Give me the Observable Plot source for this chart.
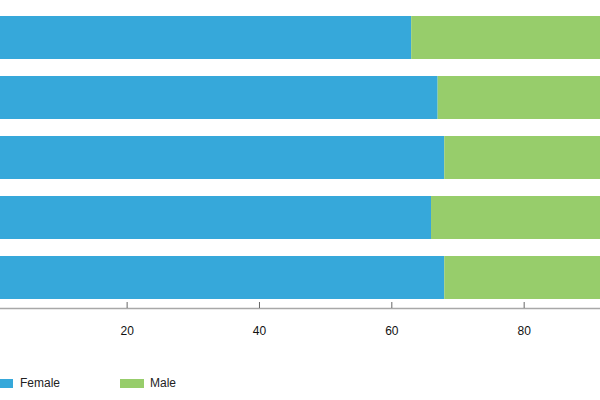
<!DOCTYPE html>
<html>
<head>
<meta charset="utf-8">
<script src="https://cdn.jsdelivr.net/npm/d3@7"></script>
<script src="https://cdn.jsdelivr.net/npm/@observablehq/plot@0.6"></script>
<style>
  html, body { margin: 0; padding: 0; overflow: hidden; background: #fff; width: 600px; height: 400px; }
  #wrap { position: relative; width: 600px; height: 400px; font-family: "Liberation Sans", Arial, sans-serif; }
  #legend { position: absolute; left: 0; top: 350px; width: 600px; height: 50px; font-size: 12px; color: #222; }
  .sw { position: absolute; top: 29px; height: 9px; width: 24px; }
  .lb { position: absolute; top: 25px; line-height: 16px; }
</style>
</head>
<body>
<div id="wrap">
  <div id="chart"></div>
  <div id="legend"></div>
</div>
<script>
const categories = ["Group 1", "Group 2", "Group 3", "Group 4", "Group 5"];
const female = [63, 67, 68, 66, 68];
const male = [37, 33, 32, 34, 32];
const seriesNames = ["Female", "Male"];
const seriesColors = ["#36a8da", "#97cd6b"];
const xTicks = [20, 40, 60, 80];

const data = [];
categories.forEach((c, i) => {
  data.push({category: c, series: "Female", value: female[i]});
  data.push({category: c, series: "Male", value: male[i]});
});

const plot = Plot.plot({
  width: 600,
  height: 350,
  marginTop: 8,
  marginBottom: 42,
  marginLeft: 0,
  marginRight: 0,
  style: {fontFamily: "'Liberation Sans', Arial, sans-serif", fontSize: "12px", color: "#111", overflow: "hidden"},
  x: {domain: [0, 100], range: [-5.7, 656], axis: null},
  y: {domain: categories, paddingInner: 0.278, paddingOuter: 0.139, axis: null},
  color: {domain: seriesNames, range: seriesColors},
  marks: [
    Plot.barX(data, Plot.stackX({x: "value", y: "category", fill: "series", order: seriesNames})),
    Plot.frame({anchor: "bottom", stroke: "#a8a8a8", strokeWidth: 1.5}),
    Plot.tickX(xTicks, {x: d => d, insetTop: 294, stroke: "#666", strokeWidth: 1}),
    Plot.axisX(xTicks, {tickSize: 0, tickPadding: 18, tickFormat: d => String(d), fill: "#111", fontSize: 12, label: null})
  ]
});
document.getElementById("chart").appendChild(plot);

const legend = document.getElementById("legend");
const legendX = [{sw: -11, lb: 20}, {sw: 120, lb: 150}];
seriesNames.forEach((name, i) => {
  const sw = document.createElement("div");
  sw.className = "sw";
  sw.style.left = legendX[i].sw + "px";
  sw.style.background = seriesColors[i];
  legend.appendChild(sw);
  const lb = document.createElement("div");
  lb.className = "lb";
  lb.style.left = legendX[i].lb + "px";
  lb.textContent = name;
  legend.appendChild(lb);
});
</script>
</body>
</html>
